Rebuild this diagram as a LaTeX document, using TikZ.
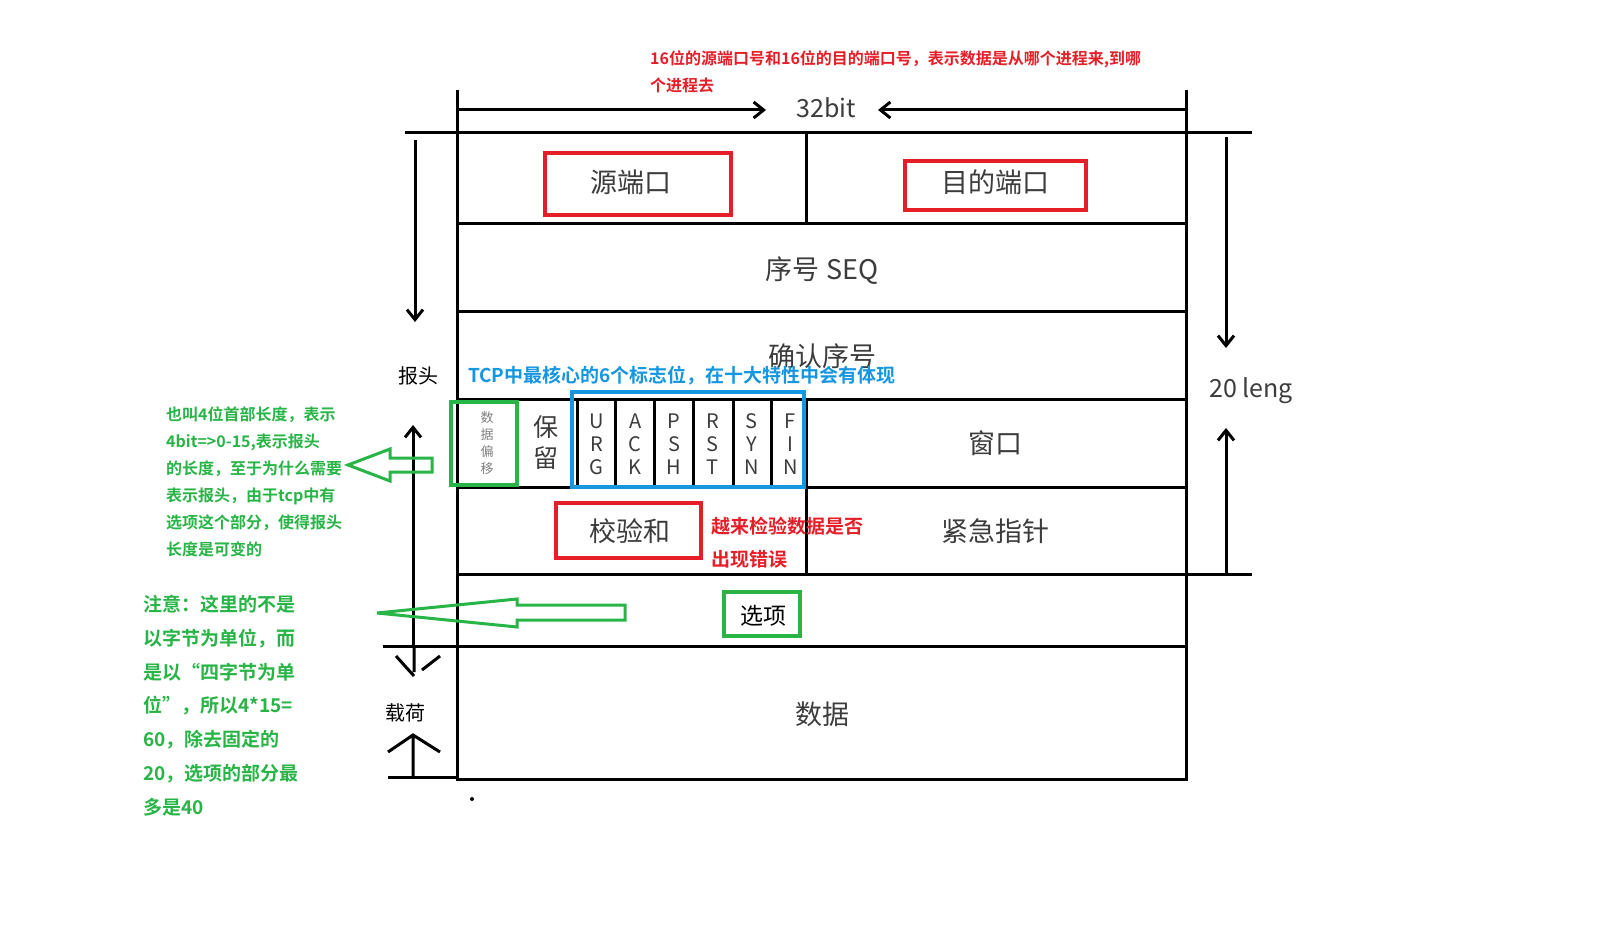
\documentclass[tikz,border=0pt]{standalone}
\usetikzlibrary{arrows.meta}
\usepackage{fontspec}
\setmainfont{Noto Sans CJK SC}
\newfontfamily\cjkb{Noto Sans CJK SC Bold}
\definecolor{ared}{RGB}{230,30,40}
\definecolor{agreen}{RGB}{40,180,70}
\definecolor{ablue}{RGB}{20,150,225}
\definecolor{tgray}{RGB}{60,60,60}
\begin{document}
\begin{tikzpicture}[x=1pt,y=-1pt,
  ln/.style={line width=3pt,black},
  big/.style={font=\fontsize{27}{29}\selectfont,text=tgray},
  flag/.style={font=\fontsize{20}{23}\selectfont,text=tgray,align=center},
  note/.style={font=\cjkb\fontsize{17}{27}\selectfont,anchor=north west,align=left,inner sep=0},
  arr/.style={line width=3pt,-{Straight Barb[length=10pt,width=16pt]}}]
\useasboundingbox (0,0) rectangle (1618,941);
\fill[white] (0,0) rectangle (1618,941);
% table
\draw[ln] (457,133) rectangle (1186,779);
\foreach \y in {224,312,400,487,574,646} \draw[ln] (457,\y) -- (1186,\y);
\draw[ln] (405,133) -- (1252,133);
\draw[ln] (1186,574) -- (1252,574);
\draw[ln] (383,646) -- (457,646);
\draw[ln] (388,777) -- (457,777);
\draw[ln] (806,133) -- (806,224);
\draw[ln] (806,400) -- (806,574);
\foreach \x in {517,577,615,654,693,733,771} \draw[ln] (\x,400) -- (\x,487);
\draw[ln] (457,90) -- (457,133); \draw[ln] (1186,90) -- (1186,133);
\node[big,font=\fontsize{25}{27}\selectfont] (w) at (826,108) {32bit};
\coordinate (wl) at (457,110); \coordinate (wr) at (1186,110);
\draw[arr] (wl) -- (766,110);
\draw[arr] (wr) -- (878,110);
% cells
\node[big] (src) at (631,182) {源端口};
\node[big] (dst) at (995,182) {目的端口};
\node[big] (seq) at (822,271) {序号 SEQ};
\node[big] (ack) at (822,356) {确认序号};
\node[flag,font=\fontsize{13}{17}\selectfont,text=gray] (off) at (487,443) {数\\据\\偏\\移};
\node[flag,font=\fontsize{25}{31}\selectfont] (res) at (546,443) {保\\留};
\foreach \t [count=\i] in {U\\R\\G,A\\C\\K,P\\S\\H,R\\S\\T,S\\Y\\N,F\\I\\N}
  \node[flag] (f\i) at ({577+38.8*(\i-0.5)},444) {\t};
\node[big] (win) at (995,443) {窗口};
\node[big] (chk) at (630,531) {校验和};
\node[big] (urg) at (995,531) {紧急指针};
\node[big,text=black,font=\fontsize{23}{25}\selectfont] (opt) at (763,616) {选项};
\node[big] (dat) at (822,714) {数据};
% coloured boxes
\draw[ared,line width=3.5pt] (545,153) rectangle (731,215);
\draw[ared,line width=3.5pt] (905,161) rectangle (1086,210);
\draw[ared,line width=3.5pt] (556,503) rectangle (701,558);
\draw[agreen,line width=3.5pt] (724,592) rectangle (800,636);
\draw[agreen,line width=3.5pt] (451,402) rectangle (517,485);
\draw[ablue,line width=3.5pt] (572,392) rectangle (804,487);
% side arrows
\node[font=\fontsize{20}{21}\selectfont] (hd) at (418,376) {报头};
\node[font=\fontsize{20}{21}\selectfont] (pl) at (405,713) {载荷};
\coordinate (a1) at (415,140); \coordinate (a2) at (415,322);
\draw[arr] (a1) -- (a2);
\coordinate (b1) at (413,645); \coordinate (b2) at (413,425);
\draw[arr] (b1) -- (b2);
\draw[line width=3pt] (396,656) -- (414,676) (422,670) -- (440,656) (414,646) -- (414,672);
\draw[line width=3pt] (413,777) -- (413,735) (388,752) -- (413,735) -- (440,752);
\coordinate (c1) at (1226,137); \coordinate (c2) at (1226,348);
\draw[arr] (c1) -- (c2);
\coordinate (d1) at (1226,574); \coordinate (d2) at (1226,428);
\draw[arr] (d1) -- (d2);
\node[font=\fontsize{25}{27}\selectfont,text=tgray] (len) at (1251,391) {20 leng};
% annotations
\node[note,text=ared,font=\cjkb\fontsize{16}{27}\selectfont] (n1) at (650,50) {16位的源端口号和16位的目的端口号，表示数据是从哪个进程来,到哪\\个进程去};
\node[note,text=ablue,font=\cjkb\fontsize{19}{20}\selectfont] (n2) at (468,366) {TCP中最核心的6个标志位，在十大特性中会有体现};
\node[note,text=ared,font=\cjkb\fontsize{19}{33}\selectfont] (n3) at (711,517) {越来检验数据是否\\出现错误};
\node[note,text=agreen,font=\cjkb\fontsize{16}{27}\selectfont] (n4) at (166,406) {也叫4位首部长度，表示\\4bit=>0-15,表示报头\\的长度，至于为什么需要\\表示报头，由于tcp中有\\选项这个部分，使得报头\\长度是可变的};
\node[note,text=agreen,font=\cjkb\fontsize{19}{33.8}\selectfont] (n5) at (143,595) {注意：这里的不是\\以字节为单位，而\\是以“四字节为单\\位”，所以4*15=\\60，除去固定的\\20，选项的部分最\\多是40};
% hollow green arrows
\draw[agreen,line width=3pt] (348,465) -- (390,449) -- (390,458) -- (432,458) -- (432,472) -- (390,472) -- (390,481) -- cycle;
\draw[agreen,line width=3pt] (377,613) -- (517,599) -- (517,605) -- (625,605) -- (625,620) -- (517,620) -- (517,627) -- cycle;
\fill (472,799) circle (2);
\end{tikzpicture}
\end{document}
